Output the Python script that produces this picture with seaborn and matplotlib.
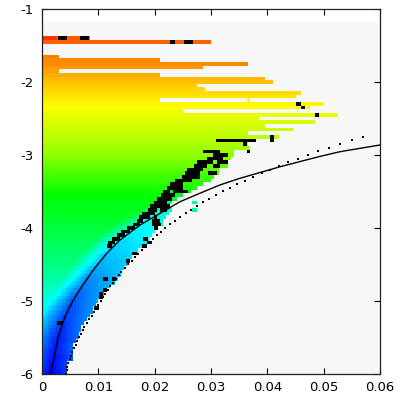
import numpy as np
import matplotlib
matplotlib.use("Agg")
import matplotlib.pyplot as plt
import seaborn as sns
from matplotlib.colors import LinearSegmentedColormap

# rows of the map: centres from -1.40 down to -6.00, step 0.05
row_y = np.round(np.arange(-1.40, -6.001, -0.05), 2)
# right end of the coloured part of each row (0 = empty row)
row_xmax = [0.0085, 0.0300, 0, 0, 0, 0.0028, 0.0212, 0.0363, 0.0283, 0.0028,
            0.0212, 0.0396, 0.0412, 0.0275, 0.0292, 0.0460, 0.0451, 0.0212, 0.0499, 0.0476,
            0.0252, 0.0524, 0.0387, 0.0484, 0.0396, 0.0444, 0.0363, 0.0419, 0.0380, 0.0364,
            0.0369, 0.0340, 0.0340, 0.0336, 0.0331, 0.0331, 0.0316, 0.0313, 0.0304, 0.0298,
            0.0286, 0.0275, 0.0263, 0.0250, 0.0240, 0.0230, 0.0227, 0.0228, 0.0224, 0.0221,
            0.0215, 0.0215, 0.0206, 0.0201, 0.0197, 0.0190, 0.0195, 0.0186, 0.0170, 0.0168,
            0.0160, 0.0156, 0.0150, 0.0145, 0.0141, 0.0138, 0.0133, 0.0128, 0.0120, 0.0115,
            0.0109, 0.0105, 0.0099, 0.0095, 0.0092, 0.0088, 0.0084, 0.0080, 0.0076, 0.0072,
            0.0069, 0.0066, 0.0063, 0.0061, 0.0056, 0.0053, 0.0053, 0.0053, 0.0053, 0.0044,
            0.0044, 0.0044, 0.0044]

# colour level (0 = blue ... 1 = red) read at a few heights:
# away from the curve on the left, on the solid curve, and at the right end of the row
lev_y = [-6.0, -5.5, -5.0, -4.5, -4.0, -3.8, -3.6, -3.4, -3.3, -3.0, -2.7, -2.5, -2.3, -2.0, -1.75, -1.4]
lev_left = [0.12, 0.19, 0.28, 0.375, 0.44, 0.47, 0.49, 0.54, 0.56, 0.64, 0.69, 0.72, 0.755, 0.81, 0.86, 0.91]
lev_curve = [0.00, 0.03, 0.08, 0.17, 0.24, 0.28, 0.42, 0.54, 0.56, 0.64, 0.69, 0.72, 0.755, 0.81, 0.86, 0.91]
lev_right = [0.06, 0.11, 0.16, 0.20, 0.27, 0.30, 0.43, 0.54, 0.56, 0.64, 0.69, 0.72, 0.755, 0.81, 0.86, 0.91]
blend_width = 0.0045

# odd single cells
extra_y = [-1.40, -2.25, -3.65, -3.75]
extra_x0 = [0.0, 0.0363, 0.0267, 0.0267]
extra_x1 = [0.0026, 0.0370, 0.0276, 0.0276]
extra_v = [0.95, 0.755, 0.34, 0.34]

# black cells: row, start, end
blk_y = [-1.40, -1.40, -1.45, -1.45, -2.30, -2.35, -2.45, -2.75, -2.80, -2.80,
         -2.85, -2.95, -2.95, -3.00, -3.05, -3.10, -3.10, -3.15, -3.15, -3.20,
         -3.25, -3.25, -3.30, -3.35, -3.40, -3.45, -3.50, -3.50, -3.55, -3.60,
         -3.65, -3.70, -3.75, -3.75, -3.80, -3.85, -3.85, -3.90, -3.90, -3.95,
         -3.95, -4.00, -4.00, -4.05, -4.10, -4.15, -4.15, -4.20, -4.20, -4.25,
         -4.25, -4.35, -4.45, -4.70, -4.70, -4.85, -4.90, -4.95, -5.10, -5.30]
blk_x0 = [0.0028, 0.0068, 0.0227, 0.0252, 0.0451, 0.0459, 0.0484, 0.0404, 0.0404, 0.0309,
          0.0356, 0.0363, 0.0285, 0.0304, 0.0292, 0.0275, 0.0310, 0.0269, 0.0304, 0.0257,
          0.0254, 0.0295, 0.0248, 0.0236, 0.0227, 0.0221, 0.0215, 0.0233, 0.0212, 0.0204,
          0.0198, 0.0192, 0.0189, 0.0210, 0.0177, 0.0173, 0.0198, 0.0168, 0.0195, 0.0162,
          0.0195, 0.0150, 0.0198, 0.0141, 0.0133, 0.0124, 0.0180, 0.0118, 0.0186, 0.0115,
          0.0177, 0.0159, 0.0149, 0.0109, 0.0124, 0.0108, 0.0101, 0.0101, 0.0092, 0.0027]
blk_x1 = [0.0044, 0.0083, 0.0236, 0.0268, 0.0459, 0.0467, 0.0492, 0.0412, 0.0412, 0.0380,
          0.0364, 0.0370, 0.0316, 0.0331, 0.0322, 0.0304, 0.0331, 0.0292, 0.0316, 0.0286,
          0.0280, 0.0310, 0.0280, 0.0266, 0.0251, 0.0251, 0.0227, 0.0259, 0.0236, 0.0230,
          0.0221, 0.0227, 0.0204, 0.0221, 0.0201, 0.0192, 0.0204, 0.0180, 0.0210, 0.0174,
          0.0212, 0.0165, 0.0206, 0.0156, 0.0147, 0.0138, 0.0189, 0.0130, 0.0195, 0.0124,
          0.0186, 0.0168, 0.0156, 0.0117, 0.0131, 0.0115, 0.0109, 0.0109, 0.0101, 0.0038]

# solid curve
solid_x = [0.00154, 0.00231, 0.00289, 0.00408, 0.00556, 0.00705, 0.00911, 0.01149, 0.01385,
           0.0174, 0.0245, 0.0280, 0.0316, 0.0351, 0.0387, 0.0423, 0.0458, 0.0493, 0.0529,
           0.0565, 0.0600]
solid_y = [-6.0, -5.716, -5.489, -5.215, -4.986, -4.804, -4.575, -4.347, -4.164,
           -3.959, -3.64, -3.525, -3.41, -3.32, -3.24, -3.16, -3.09, -3.02, -2.955,
           -2.908, -2.863]

# dotted curve: one dot per row from -2.75 down to -6.00
dot_y = np.round(np.arange(-2.75, -6.001, -0.05), 2)
dot_x = [0.0570, 0.0550, 0.0529, 0.0509, 0.0490, 0.0472, 0.0454, 0.0436, 0.0420, 0.0405,
         0.0390, 0.0375, 0.0360, 0.0347, 0.0334, 0.0321, 0.0309, 0.0297, 0.0286, 0.0276,
         0.0265, 0.0255, 0.0245, 0.0236, 0.0228, 0.0219, 0.0211, 0.0204, 0.0197, 0.0190,
         0.0183, 0.0177, 0.0171, 0.0165, 0.0159, 0.0153, 0.0147, 0.0141, 0.0136, 0.0131,
         0.0126, 0.0121, 0.0117, 0.0112, 0.0108, 0.0104, 0.0100, 0.0096, 0.0092, 0.0088,
         0.0084, 0.0080, 0.0075, 0.0072, 0.0069, 0.0066, 0.0063, 0.0060, 0.0057, 0.0054,
         0.0051, 0.0049, 0.0047, 0.0045, 0.0044, 0.0043]

x_ticks = [0, 0.01, 0.02, 0.03, 0.04, 0.05, 0.06]
x_labels = ['0', '0.01', '0.02', '0.03', '0.04', '0.05', '0.06']
y_ticks = [-6, -5, -4, -3, -2, -1]
y_labels = ['-6', '-5', '-4', '-3', '-2', '-1']

sns.set_style("ticks")
plt.rcParams['font.family'] = ['DejaVu Sans']
plt.rcParams['axes.unicode_minus'] = False

cmap = LinearSegmentedColormap.from_list(
    'bcgyr', ['#0000ff', '#00ffff', '#00ff00', '#ffff00', '#ff0000'])

# build the cell grid
dx = 0.0005
x_edges = np.arange(0, 0.06 + dx / 2, dx)
x_mid = (x_edges[:-1] + x_edges[1:]) / 2
y_edges = np.append(row_y + 0.025, row_y[-1] - 0.025)

sy = np.array(solid_y)
sx = np.array(solid_x)
order = np.argsort(sy)
curve_at_row = np.interp(row_y, sy[order], sx[order])
L = np.interp(row_y, lev_y, lev_left)
C = np.interp(row_y, lev_y, lev_curve)
R = np.interp(row_y, lev_y, lev_right)

grid = np.full((len(row_y), len(x_mid)), np.nan)
for k in range(len(row_y)):
    xe = row_xmax[k]
    xc = curve_at_row[k]
    for i, x in enumerate(x_mid):
        if x >= xe:
            break
        if x <= xc:
            t = max(0.0, 1 - (xc - x) / blend_width)
            grid[k, i] = L[k] + (C[k] - L[k]) * t
        else:
            t = (x - xc) / max(xe - xc, 1e-9)
            grid[k, i] = C[k] + (R[k] - C[k]) * t

fig, ax = plt.subplots(figsize=(4.07, 4.07), dpi=100)
fig.subplots_adjust(left=0.1032, right=0.9337, bottom=0.0811, top=0.9779)

ax.fill_between([0, 0.06], -6.05, -1.175, color='#f7f7f7', linewidth=0, zorder=0)
ax.pcolormesh(x_edges, y_edges, grid, cmap=cmap, vmin=0, vmax=1,
              shading='flat', zorder=1)
ax.barh(extra_y, np.array(extra_x1) - np.array(extra_x0), left=extra_x0,
        height=0.05, color=cmap(np.array(extra_v)), linewidth=0, zorder=2)
ax.barh(blk_y, np.array(blk_x1) - np.array(blk_x0), left=blk_x0,
        height=0.05, color='black', linewidth=0, zorder=3)

sns.lineplot(x=solid_x, y=solid_y, sort=False, color='black', linewidth=1.0,
             ax=ax, zorder=4)
sns.scatterplot(x=dot_x, y=dot_y, marker='s', s=2.2, color='black',
                linewidth=0, ax=ax, zorder=5)

ax.set_xlim(0, 0.06)
ax.set_ylim(-6, -1)
ax.set_xticks(x_ticks)
ax.set_xticklabels(x_labels)
ax.set_yticks(y_ticks)
ax.set_yticklabels(y_labels)
ax.tick_params(direction='in', top=True, right=True, length=4.5, width=0.8,
               labelsize=9.5, colors='black', pad=5)
ax.tick_params(axis='y', pad=6)
for sp in ax.spines.values():
    sp.set_visible(True)
    sp.set_color('#222222')
    sp.set_linewidth(0.9)
ax.set_xlabel('')
ax.set_ylabel('')

plt.savefig('out.png', dpi=100)
